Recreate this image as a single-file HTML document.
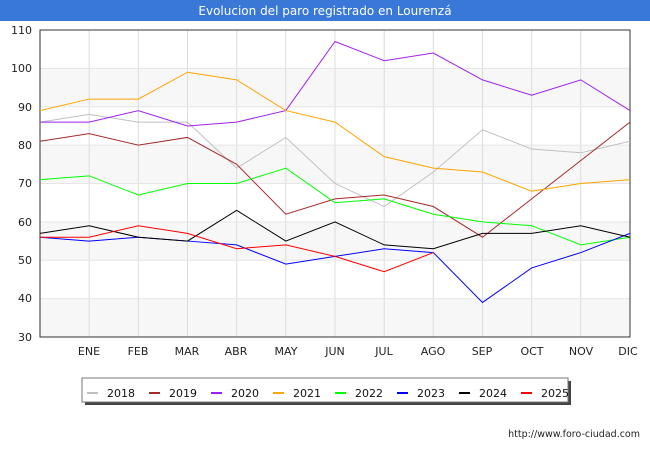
<!DOCTYPE html>
<html><head><meta charset="utf-8"><style>
body{margin:0;background:#fff;}
svg{display:block;font-family:"DejaVu Sans","Liberation Sans",sans-serif;}
</style></head><body>
<svg width="650" height="450" viewBox="0 0 650 450">
<rect width="650" height="450" fill="#fff"/>
<rect x="0" y="0" width="650" height="21" fill="#3a78d8"/>
<text x="325" y="15" fill="#fff" font-size="12" text-anchor="middle">Evolucion del paro registrado en Lourenzá</text>
<g fill="#f7f7f7">
<rect x="40" y="68.4" width="590" height="38.4"/>
<rect x="40" y="145.1" width="590" height="38.4"/>
<rect x="40" y="221.9" width="590" height="38.4"/>
<rect x="40" y="298.6" width="590" height="38.4"/>
</g>
<g stroke="#dcdcdc" stroke-width="1">
<line x1="89.2" y1="30" x2="89.2" y2="337"/><line x1="138.3" y1="30" x2="138.3" y2="337"/>
<line x1="187.5" y1="30" x2="187.5" y2="337"/><line x1="236.7" y1="30" x2="236.7" y2="337"/>
<line x1="285.8" y1="30" x2="285.8" y2="337"/><line x1="335" y1="30" x2="335" y2="337"/>
<line x1="384.2" y1="30" x2="384.2" y2="337"/><line x1="433.3" y1="30" x2="433.3" y2="337"/>
<line x1="482.5" y1="30" x2="482.5" y2="337"/><line x1="531.7" y1="30" x2="531.7" y2="337"/>
<line x1="580.8" y1="30" x2="580.8" y2="337"/><line x1="630" y1="30" x2="630" y2="337"/>
</g>
<g stroke="#e6e6e6">
<line x1="40" y1="68.4" x2="630" y2="68.4"/><line x1="40" y1="106.8" x2="630" y2="106.8"/>
<line x1="40" y1="145.1" x2="630" y2="145.1"/><line x1="40" y1="183.5" x2="630" y2="183.5"/>
<line x1="40" y1="221.9" x2="630" y2="221.9"/><line x1="40" y1="260.3" x2="630" y2="260.3"/>
<line x1="40" y1="298.6" x2="630" y2="298.6"/>
</g>
<rect x="40" y="30" width="590" height="307" fill="none" stroke="#333" stroke-width="1"/>
<g font-size="11" fill="#222" text-anchor="end">
<text x="32" y="34">110</text><text x="32" y="72">100</text><text x="32" y="111">90</text>
<text x="32" y="149">80</text><text x="32" y="187">70</text><text x="32" y="226">60</text>
<text x="32" y="264">50</text><text x="32" y="302">40</text><text x="32" y="341">30</text>
</g>
<g font-size="11" fill="#222" text-anchor="middle">
<text x="89" y="355">ENE</text><text x="138" y="355">FEB</text><text x="187" y="355">MAR</text>
<text x="236" y="355">ABR</text><text x="286" y="355">MAY</text><text x="335" y="355">JUN</text>
<text x="384" y="355">JUL</text><text x="433" y="355">AGO</text><text x="482" y="355">SEP</text>
<text x="532" y="355">OCT</text><text x="581" y="355">NOV</text><text x="628" y="355">DIC</text>
</g>
<g fill="none" stroke-width="1" transform="translate(40,30) scale(49.1667,-3.8375) translate(0,-110)">
<polyline vector-effect="non-scaling-stroke" stroke="#c0c0c0" points="0,86 1,88 2,86 3,86 4,74 5,82 6,70 7,64 8,73 9,84 10,79 11,78 12,81"/>
<polyline vector-effect="non-scaling-stroke" stroke="#a52a2a" points="0,81 1,83 2,80 3,82 4,75 5,62 6,66 7,67 8,64 9,56 10,66 11,76 12,86"/>
<polyline vector-effect="non-scaling-stroke" stroke="#a020f0" points="0,86 1,86 2,89 3,85 4,86 5,89 6,107 7,102 8,104 9,97 10,93 11,97 12,89"/>
<polyline vector-effect="non-scaling-stroke" stroke="#ffa500" points="0,89 1,92 2,92 3,99 4,97 5,89 6,86 7,77 8,74 9,73 10,68 11,70 12,71"/>
<polyline vector-effect="non-scaling-stroke" stroke="#00ff00" points="0,71 1,72 2,67 3,70 4,70 5,74 6,65 7,66 8,62 9,60 10,59 11,54 12,56"/>
<polyline vector-effect="non-scaling-stroke" stroke="#0000ff" points="0,56 1,55 2,56 3,55 4,54 5,49 6,51 7,53 8,52 9,39 10,48 11,52 12,57"/>
<polyline vector-effect="non-scaling-stroke" stroke="#000000" points="0,57 1,59 2,56 3,55 4,63 5,55 6,60 7,54 8,53 9,57 10,57 11,59 12,56"/>
<polyline vector-effect="non-scaling-stroke" stroke="#ff0000" points="0,56 1,56 2,59 3,57 4,53 5,54 6,51 7,47 8,52"/>
</g>
<rect x="85" y="381" width="486" height="24" fill="#444"/>
<rect x="82" y="378" width="486" height="24" fill="#fff" stroke="#777"/>
<g stroke-width="2">
<line x1="87" y1="393" x2="98" y2="393" stroke="#c0c0c0"/>
<line x1="149" y1="393" x2="160" y2="393" stroke="#a52a2a"/>
<line x1="211" y1="393" x2="222" y2="393" stroke="#a020f0"/>
<line x1="273" y1="393" x2="284" y2="393" stroke="#ffa500"/>
<line x1="335" y1="393" x2="346" y2="393" stroke="#00ff00"/>
<line x1="397" y1="393" x2="408" y2="393" stroke="#0000ff"/>
<line x1="459" y1="393" x2="470" y2="393" stroke="#000000"/>
<line x1="521" y1="393" x2="532" y2="393" stroke="#ff0000"/>
</g>
<g font-size="11" fill="#111">
<text x="107" y="397">2018</text><text x="169" y="397">2019</text><text x="231" y="397">2020</text>
<text x="293" y="397">2021</text><text x="355" y="397">2022</text><text x="417" y="397">2023</text>
<text x="479" y="397">2024</text><text x="541" y="397">2025</text>
</g>
<text x="640" y="437" font-size="9.5" fill="#222" text-anchor="end">http://www.foro-ciudad.com</text>
</svg>
</body></html>
